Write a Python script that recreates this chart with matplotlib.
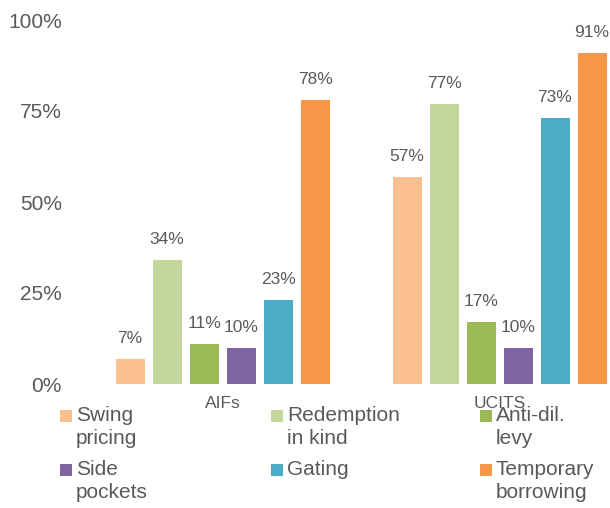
import matplotlib
matplotlib.use("Agg")
import matplotlib.pyplot as plt
from matplotlib.patches import Rectangle
import numpy as np

plt.rcParams['font.family'] = ['Liberation Sans', 'DejaVu Sans']

categories = ["AIFs", "UCITS"]
series = ["Swing\npricing", "Redemption\nin kind", "Anti-dil.\nlevy",
          "Side\npockets", "Gating", "Temporary\nborrowing"]
values = {
    "Swing\npricing": [7, 57],
    "Redemption\nin kind": [34, 77],
    "Anti-dil.\nlevy": [11, 17],
    "Side\npockets": [10, 10],
    "Gating": [23, 73],
    "Temporary\nborrowing": [78, 91],
}
colors = ["#FAC090", "#C3D69B", "#9BBB59", "#8064A2", "#4BACC6", "#F79646"]
yticks = [0, 25, 50, 75, 100]
yticklabels = ["0%", "25%", "50%", "75%", "100%"]

W, H = 610, 508
fig = plt.figure(figsize=(W / 100, H / 100), dpi=100)
ax_l, ax_r, ax_b, ax_t = 70, 610, 384, 20
ax = fig.add_axes([ax_l / W, (H - ax_b) / H, (ax_r - ax_l) / W, (ax_b - ax_t) / H])

tc = "#595959"
cat_px = 277.0
x0_px = 222.5
slot = 37 / cat_px
bw = 29 / cat_px
x = np.arange(len(categories))
n = len(series)
for i, s in enumerate(series):
    xs = x + (i - (n - 1) / 2) * slot
    bars = ax.bar(xs, values[s], width=bw, color=colors[i], edgecolor="none", zorder=2)
    for xi, v in zip(xs, values[s]):
        ax.annotate(f"{v}%", (xi, v), xytext=(0, 11.5), textcoords="offset points",
                    ha="center", va="baseline", fontsize=12.5, color=tc,
                    annotation_clip=False)

ax.set_xlim((ax_l - x0_px) / cat_px, (ax_r - x0_px) / cat_px)
ax.set_ylim(0, 100)
ax.set_yticks(yticks)
ax.set_yticklabels(yticklabels, fontsize=15, color=tc)
ax.set_xticks(x)
ax.set_xticklabels(categories, fontsize=12.5, color=tc)
ax.tick_params(axis="y", length=0, pad=6)
ax.tick_params(axis="x", length=0, pad=9)
for sp in ax.spines.values():
    sp.set_visible(False)

# legend (3 columns x 2 rows)
col_x = [60, 271, 480]
row_y = [410, 464]
for i, s in enumerate(series):
    r, c = divmod(i, 3)
    mx, my = col_x[c], row_y[r]
    fig.patches.append(Rectangle((mx / W, (H - my - 12) / H), 12 / W, 12 / H,
                                 transform=fig.transFigure, facecolor=colors[i],
                                 edgecolor="none", zorder=5))
    fig.text((mx + 16) / W, (H - (my - 4)) / H, s, fontsize=15, color=tc,
             ha="left", va="top", linespacing=1.3, zorder=6)

fig.savefig("out.png", dpi=100)
